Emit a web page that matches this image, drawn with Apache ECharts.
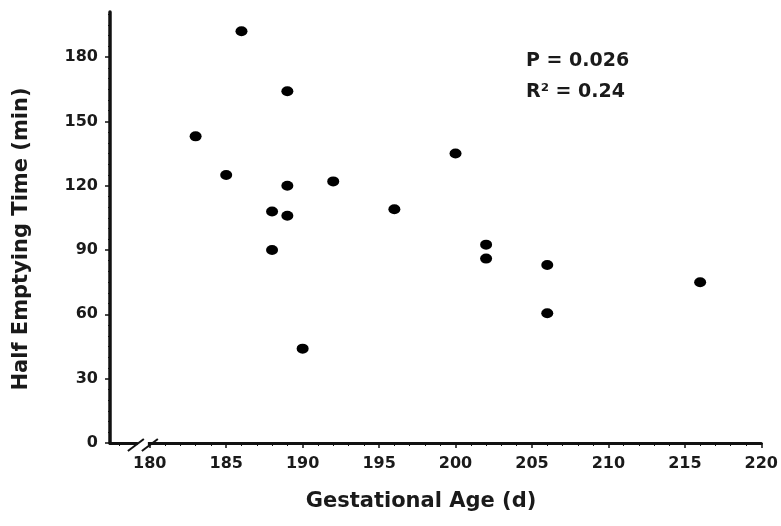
<!DOCTYPE html>
<html>
<head>
<meta charset="utf-8">
<script src="https://cdn.jsdelivr.net/npm/echarts@6/dist/echarts.min.js"></script>
<style>
  html, body { margin: 0; padding: 0; background: #fff; }
  #main { width: 781px; height: 526px; }
</style>
</head>
<body>
<div id="main"></div>
<script>
// gestational age (d) vs half emptying time (min)
var gestAge   = [186, 189, 183, 185, 189, 192, 188, 189, 188, 190, 196, 200, 202, 202, 206, 206, 216];
var halfTime  = [192, 164, 143, 125, 120, 122, 108, 106, 90, 44, 109, 135, 92.5, 86, 83, 60.5, 75];
var xTicks    = [180, 185, 190, 195, 200, 205, 210, 215, 220];
var yTicks    = [0, 30, 60, 90, 120, 150, 180];
var statsText = ['P = 0.026', 'R\u00b2 = 0.24'];

var FONT = '"DejaVu Sans", Verdana, sans-serif';
var ink = '#111';

var xMinor = [];
for (var i = 178; i <= 220; i++) { if (i % 5 !== 0) xMinor.push(i); }
var yMinor = [];
for (var j = 5; j <= 200; j += 5) { if (j % 30 !== 0) yMinor.push(j); }

var points = gestAge.map(function (g, k) { return [g, halfTime[k]]; });

var myChart = echarts.init(document.getElementById('main'));

var option = {
  animation: false,
  backgroundColor: '#fff',
  grid: { left: 110, right: 19, top: 12, bottom: 83 },
  xAxis: [
    {
      type: 'value',
      min: 177.4,
      max: 220,
      splitLine: { show: false },
      axisLine: { onZero: false, lineStyle: { color: ink, width: 3 } },
      axisTick: { customValues: xTicks, length: 5, lineStyle: { color: ink, width: 1.5 } },
      axisLabel: {
        customValues: xTicks, margin: 13,
        color: '#1a1a1a', fontSize: 16, fontWeight: 'bold', fontFamily: FONT
      }
    },
    {
      type: 'value',
      min: 177.4,
      max: 220,
      position: 'bottom',
      splitLine: { show: false },
      axisLine: { show: false },
      axisTick: { customValues: xMinor, length: 3, lineStyle: { color: ink, width: 1 } },
      axisLabel: { show: false }
    }
  ],
  yAxis: [
    {
      type: 'value',
      min: 0,
      max: 201,
      splitLine: { show: false },
      axisLine: { onZero: false, lineStyle: { color: ink, width: 3.5 } },
      axisTick: { customValues: yTicks, length: 5, lineStyle: { color: ink, width: 1.5 } },
      axisLabel: {
        customValues: yTicks, margin: 12,
        color: '#1a1a1a', fontSize: 16, fontWeight: 'bold', fontFamily: FONT
      }
    },
    {
      type: 'value',
      min: 0,
      max: 201,
      position: 'left',
      splitLine: { show: false },
      axisLine: { show: false },
      axisTick: { customValues: yMinor, length: 2, lineStyle: { color: ink, width: 1 } },
      axisLabel: { show: false }
    }
  ],
  series: [
    {
      type: 'scatter',
      data: points,
      symbol: 'circle',
      symbolSize: [12, 10],
      itemStyle: { color: '#000', opacity: 1 }
    }
  ]
};
myChart.setOption(option);

// axis titles, stats box and the axis break marks
var bx = myChart.convertToPixel({ xAxisIndex: 0 }, 179.55);
var by = myChart.convertToPixel({ yAxisIndex: 0 }, 0);

myChart.setOption({
  graphic: [
    {
      type: 'text', x: 421, y: 491,
      style: {
        text: 'Gestational Age (d)', fill: '#1a1a1a', font: 'bold 21px ' + FONT,
        align: 'center', verticalAlign: 'top'
      }
    },
    {
      type: 'text', x: 11, y: 239, rotation: Math.PI / 2,
      style: {
        text: 'Half Emptying Time (min)', fill: '#1a1a1a', font: 'bold 21px ' + FONT,
        align: 'center', verticalAlign: 'top'
      }
    },
    {
      type: 'text', x: 526, y: 46,
      style: { text: statsText.join('\n'), fill: '#1a1a1a', font: 'bold 19px ' + FONT, lineHeight: 31 }
    },
    {
      type: 'rect', shape: { x: bx - 5, y: by - 4, width: 10, height: 8 },
      style: { fill: '#fff' }, z: 100
    },
    {
      type: 'line', shape: { x1: bx - 15, y1: by + 8, x2: bx + 1, y2: by - 4 },
      style: { stroke: ink, lineWidth: 2 }, z: 101
    },
    {
      type: 'line', shape: { x1: bx - 1, y1: by + 8, x2: bx + 15, y2: by - 4 },
      style: { stroke: ink, lineWidth: 2 }, z: 101
    }
  ]
});
</script>
</body>
</html>
